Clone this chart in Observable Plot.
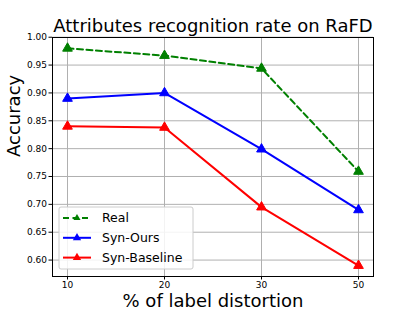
<!DOCTYPE html>
<html>
<head>
<meta charset="utf-8">
<script src="https://cdn.jsdelivr.net/npm/d3@7"></script>
<script src="https://cdn.jsdelivr.net/npm/@observablehq/plot@0.6"></script>
<style>
  html, body { margin: 0; padding: 0; background: #fff; }
  svg { display: block; }
</style>
</head>
<body>
<div id="chart"></div>
<script>
const distortion = ["10", "20", "30", "50"];
const seriesNames = ["Real", "Syn-Ours", "Syn-Baseline"];
const realValues = [0.980, 0.967, 0.944, 0.759];
const oursValues = [0.890, 0.900, 0.799, 0.690];
const baselineValues = [0.840, 0.838, 0.695, 0.590];
const yTicks = [0.60, 0.65, 0.70, 0.75, 0.80, 0.85, 0.90, 0.95, 1.00];
const seriesColors = ["#008000", "#0000ff", "#ff0000"];
const seriesDash = ["6,3.5", null, null];

const allValues = [realValues, oursValues, baselineValues];
const data = [];
seriesNames.forEach((s, i) => {
  distortion.forEach((d, j) => data.push({series: s, x: d, y: allValues[i][j]}));
});

const font = "DejaVu Sans, sans-serif";
const W = 414, H = 311;
const mL = 52, mR = 41, mT = 37, mB = 35;

const marks = [
  Plot.gridX(distortion, {stroke: "#b0b0b0", strokeOpacity: 1, strokeWidth: 1}),
  Plot.gridY(yTicks, {stroke: "#b0b0b0", strokeOpacity: 1, strokeWidth: 1}),
  Plot.axisX({ticks: distortion, tickSize: 3.5, tickPadding: 2, fontSize: 9, label: null, stroke: "#000"}),
  Plot.axisY({ticks: yTicks, tickSize: 3.5, tickPadding: 2, fontSize: 9, tickFormat: d3.format(".2f"), label: null}),
];
seriesNames.forEach((s, i) => {
  const rows = data.filter(d => d.series === s);
  marks.push(Plot.line(rows, {x: "x", y: "y", stroke: seriesColors[i], strokeWidth: 2, strokeDasharray: seriesDash[i]}));
  marks.push(Plot.dot(rows, {x: "x", y: "y", symbol: "triangle", r: 3.6, fill: seriesColors[i], stroke: seriesColors[i], strokeWidth: 1}));
});
marks.push(Plot.frame({stroke: "#000", strokeWidth: 1}));
marks.push(Plot.text(["Attributes recognition rate on RaFD"], {frameAnchor: "top", lineAnchor: "middle", dy: -10.8, fontSize: 18, fill: "#000"}));
marks.push(Plot.text(["% of label distortion"], {frameAnchor: "bottom", lineAnchor: "middle", dy: 24.7, fontSize: 18, fill: "#000"}));
marks.push(Plot.text(["Accuracy"], {frameAnchor: "left", lineAnchor: "middle", dx: -38.5, rotate: -90, fontSize: 18, fill: "#000"}));

const chart = Plot.plot({
  width: W, height: H,
  marginLeft: mL, marginRight: mR, marginTop: mT, marginBottom: mB,
  style: {fontFamily: font, background: "#fff", color: "#000"},
  x: {type: "point", domain: distortion, padding: 0.15},
  y: {domain: [0.5705, 0.9995]},
  marks
});

// legend in the lower-left corner of the frame
const svg = d3.select(chart);
const lx = mL + 7, ly = H - mB - 7 - 62;
const lg = svg.append("g").attr("font-family", font).attr("text-anchor", "start");
lg.append("rect").attr("x", lx).attr("y", ly).attr("width", 134).attr("height", 62)
  .attr("rx", 2).attr("fill", "#fff").attr("fill-opacity", 0.85).attr("stroke", "#cccccc");
seriesNames.forEach((s, i) => {
  const cy = ly + 11 + i * 19.8;
  lg.append("line").attr("x1", lx + 4).attr("x2", lx + 32).attr("y1", cy).attr("y2", cy)
    .attr("stroke", seriesColors[i]).attr("stroke-width", 2)
    .attr("stroke-dasharray", seriesDash[i]);
  lg.append("path").attr("d", d3.symbol(d3.symbolTriangle, i === 0 ? 22 : 30)())
    .attr("transform", `translate(${lx + 18},${cy})`).attr("fill", seriesColors[i]);
  lg.append("text").attr("x", lx + 43).attr("y", cy).attr("dy", "0.35em")
    .attr("font-size", 12.5).attr("fill", "#000").attr("text-anchor", "start").text(s);
});

document.getElementById("chart").append(chart);
</script>
</body>
</html>
